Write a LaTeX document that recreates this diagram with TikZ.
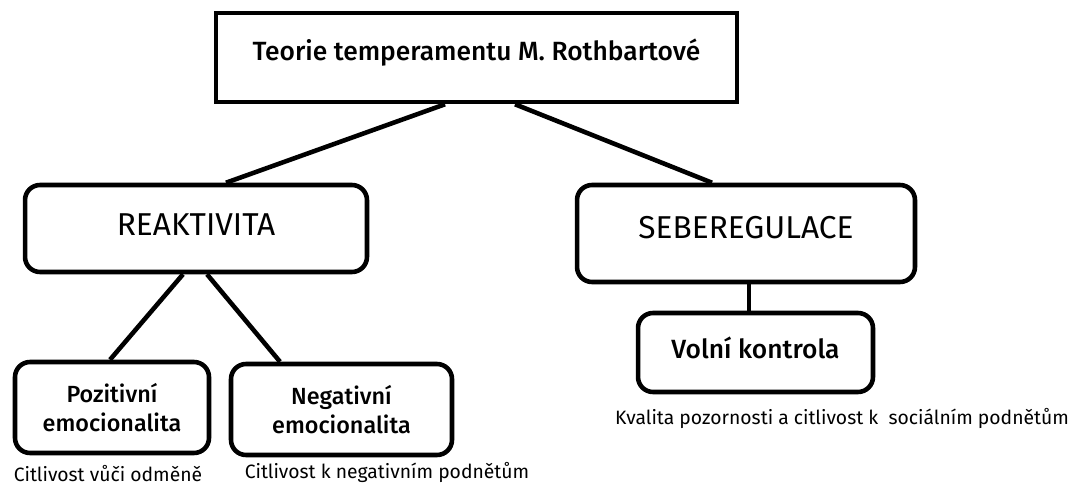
\documentclass[tikz,border=0pt]{standalone}
\usepackage{fontspec}
\setmainfont{Fira Sans}
\newfontfamily\firamed{Fira Sans Medium}
\usetikzlibrary{calc}

\begin{document}
\begin{tikzpicture}[x=0.02cm, y=-0.02cm, line width=2.6pt,
  every node/.style={align=center, inner sep=0pt},
  topbox/.style={draw, rectangle, minimum width=10.42cm, minimum height=1.78cm, font=\firamed\fontsize{15}{18}\selectfont},
  mainbox/.style={draw, rounded corners=0.3cm, font=\fontsize{18}{21}\selectfont},
  subbox/.style={draw, rounded corners=0.3cm, font=\firamed\fontsize{13.3}{16.5}\selectfont},
  note/.style={font=\fontsize{11}{13}\selectfont}]
  \useasboundingbox (0,0) rectangle (1077,486);
  \node[topbox, text depth=0.32cm] (theory) at (476.5,57.5) {Teorie temperamentu M. Rothbartové};
  \node[mainbox, minimum width=6.84cm, minimum height=1.74cm, text depth=0.14cm] (reactivity) at (196,228.5) {REAKTIVITA};
  \node[mainbox, minimum width=6.76cm, minimum height=1.94cm, text depth=0.26cm] (selfreg) at (746,233.5) {SEBEREGULACE};
  \node[subbox, minimum width=3.88cm, minimum height=1.82cm] (positive) at (112,407.5) {Pozitivní\\emocionalita};
  \node[subbox, minimum width=4.42cm, minimum height=1.82cm] (negative) at (341.5,409.5) {Negativní\\emocionalita};
  \node[subbox, minimum width=4.7cm, minimum height=1.58cm, text depth=0.18cm, font=\firamed\fontsize{15}{18}\selectfont] (volition) at (755.5,352.5) {Volní kontrola};
  \node[note] (rewardnote) at (108,474) {Citlivost vůči odměně};
  \node[note] (threatnote) at (387,472) {Citlivost k negativním podnětům};
  \node[note] (socialnote) at (842,418) {Kvalita pozornosti a citlivost k~ sociálním podnětům};
  \coordinate (selfregfoot) at ($(selfreg.south)+(3,0)$);
  \draw ($(theory.south)+(-31.5,0)$) -- ($(reactivity.north)+(30,0)$);
  \draw ($(theory.south)+(38.5,0)$) -- ($(selfreg.north)+(-34,0)$);
  \draw ($(reactivity.south)+(-13,0)$) -- ($(positive.north)+(-2,0)$);
  \draw ($(reactivity.south)+(11,0)$) -- ($(negative.north)+(-61.5,0)$);
  \draw (selfregfoot) -- (selfregfoot |- volition.north);
\end{tikzpicture}
\end{document}
